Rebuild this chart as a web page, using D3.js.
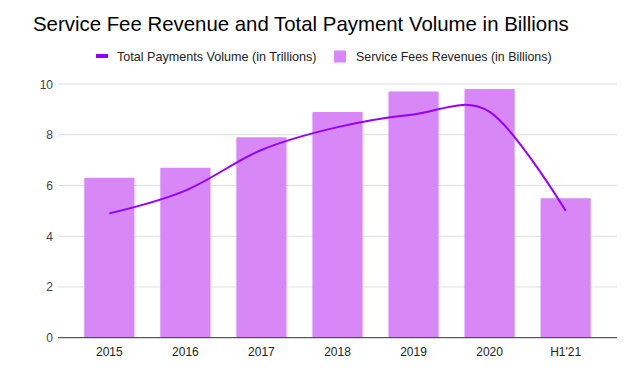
<!DOCTYPE html>
<html lang="en">

<head>
    <meta charset="utf-8">
    <script src="https://d3js.org/d3.v7.min.js"></script>
    <style>
        body { margin: 0; background: #fff; }
        text { font-family: Arial, "Liberation Sans", sans-serif; }
    </style>
</head>

<body>
    <div id="graph"></div>
    <script>
        // data
        var categories = ["2015", "2016", "2017", "2018", "2019", "2020", "H1'21"];
        var serviceFees = [6.3, 6.7, 7.9, 8.9, 9.7, 9.8, 5.5];
        var paymentVolume = [4.9, 5.8, 7.4, 8.3, 8.8, 8.9, 5.0];
        var yTicks = [0, 2, 4, 6, 8, 10];

        var titleText = "Service Fee Revenue and Total Payment Volume in Billions";
        var lineLabel = "Total Payments Volume (in Trillions)";
        var barLabel = "Service Fees Revenues (in Billions)";

        var barColor = "#d787f6",
            lineColor = "#9400ff";

        var width = 631,
            height = 368,
            margin = { top: 84, right: 14, bottom: 30, left: 58 };

        var svg = d3.select("#graph").append("svg")
            .attr("width", width)
            .attr("height", height);

        // title
        svg.append("text")
            .attr("x", 33)
            .attr("y", 31)
            .style("font-size", "20.4px")
            .attr("fill", "#000")
            .text(titleText);

        // legend
        var legend = svg.append("g");
        legend.append("line")
            .attr("x1", 96).attr("x2", 108)
            .attr("y1", 56).attr("y2", 56)
            .attr("stroke", lineColor)
            .attr("stroke-width", 4);
        legend.append("text")
            .attr("x", 117).attr("y", 60.5)
            .style("font-size", "12.6px")
            .attr("fill", "#222")
            .text(lineLabel);
        legend.append("rect")
            .attr("x", 334).attr("y", 50.5)
            .attr("width", 12).attr("height", 12)
            .attr("fill", barColor);
        legend.append("text")
            .attr("x", 356).attr("y", 60.5)
            .style("font-size", "12.4px")
            .attr("fill", "#222")
            .text(barLabel);

        var x = d3.scaleBand()
            .domain(categories)
            .range([margin.left, width - margin.right])
            .paddingInner(0.34)
            .paddingOuter(0.345);

        var y = d3.scaleLinear()
            .domain([0, 10])
            .range([337.7, margin.top]);

        // grid lines
        svg.append("g")
            .selectAll("line")
            .data(yTicks.filter(d => d > 0))
            .enter().append("line")
            .attr("x1", margin.left)
            .attr("x2", width - margin.right)
            .attr("y1", d => y(d))
            .attr("y2", d => y(d))
            .attr("stroke", "#dedede")
            .attr("stroke-width", 1);

        // y tick labels
        svg.append("g")
            .selectAll("text")
            .data(yTicks)
            .enter().append("text")
            .attr("x", 53)
            .attr("y", d => y(d) + 4.5)
            .attr("text-anchor", "end")
            .style("font-size", "12px")
            .attr("fill", "#444")
            .text(d => d);

        // bars
        svg.append("g")
            .selectAll("rect")
            .data(categories)
            .enter().append("rect")
            .attr("x", d => x(d))
            .attr("width", x.bandwidth())
            .attr("y", (d, i) => y(serviceFees[i]))
            .attr("height", (d, i) => y(0) - y(serviceFees[i]))
            .attr("rx", 1)
            .attr("fill", barColor);

        // baseline
        svg.append("line")
            .attr("x1", margin.left)
            .attr("x2", width - margin.right)
            .attr("y1", y(0))
            .attr("y2", y(0))
            .attr("stroke", "#333")
            .attr("stroke-width", 1);

        // x labels
        svg.append("g")
            .selectAll("text")
            .data(categories)
            .enter().append("text")
            .attr("x", d => x(d) + x.bandwidth() / 2)
            .attr("y", 356)
            .attr("text-anchor", "middle")
            .style("font-size", "12px")
            .attr("fill", "#222")
            .text(d => d);

        // smoothed line
        var line = d3.line()
            .x((d, i) => x(categories[i]) + x.bandwidth() / 2)
            .y(d => y(d))
            .curve(d3.curveCardinal.tension(0));

        svg.append("path")
            .datum(paymentVolume)
            .attr("fill", "none")
            .attr("stroke", lineColor)
            .attr("stroke-width", 2)
            .attr("d", line);
    </script>
</body>

</html>
